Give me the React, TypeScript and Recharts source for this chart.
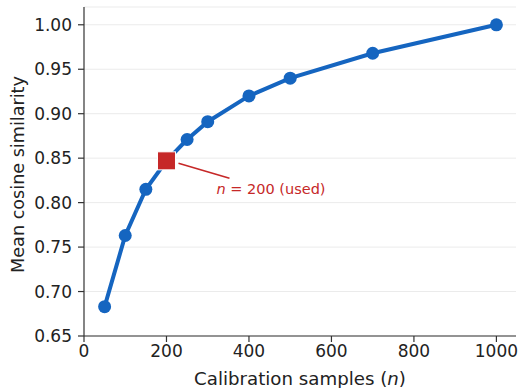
import React from 'react';
import { ComposedChart, Line, Scatter, XAxis, YAxis, CartesianGrid, Label } from 'recharts';

const samples = [50, 100, 150, 200, 250, 300, 400, 500, 700, 1000];
const similarity = [0.683, 0.763, 0.815, 0.847, 0.871, 0.891, 0.92, 0.94, 0.968, 1.0];
const usedSamples = [200];
const usedSimilarity = [0.847];
const xTicks = [0, 200, 400, 600, 800, 1000];
const yTicks = [0.65, 0.7, 0.75, 0.8, 0.85, 0.9, 0.95, 1.0];
const annotationValue = '200 (used)';

const lineData = samples.map((x, i) => ({ x, y: similarity[i] }));
const usedData = usedSamples.map((x, i) => ({ x, y: usedSimilarity[i] }));

const BLUE = '#1565C0';
const RED = '#C62828';
const FONT = 'DejaVu Sans, sans-serif';

const UsedShape = (props: any) => {
  const { cx, cy } = props;
  if (cx == null || cy == null) return null;
  const s = 18;
  return (
    <g>
      <line x1={cx + 12} y1={cy + 2.5} x2={cx + 63} y2={cy + 17.5} stroke={RED} strokeWidth={1.6} />
      <rect x={cx - s / 2} y={cy - s / 2} width={s} height={s} fill={RED} stroke="#ffffff" strokeWidth={1} />
      <text x={cx + 50} y={cy + 33} fill={RED} fontSize={14.5} fontFamily={FONT}>
        <tspan fontStyle="italic">n</tspan>
        <tspan>{' = ' + annotationValue}</tspan>
      </text>
    </g>
  );
};

const XLabel = (props: any) => {
  const vb = props.viewBox || {};
  const cx = vb.x + vb.width / 2;
  return (
    <text x={cx} y={vb.y + 49} textAnchor="middle" fontSize={18.2} fontFamily={FONT} fill="#222">
      <tspan>Calibration samples (</tspan>
      <tspan fontStyle="italic">n</tspan>
      <tspan>)</tspan>
    </text>
  );
};

const YLabel = (props: any) => {
  const vb = props.viewBox || {};
  const cy = vb.y + vb.height / 2 + 3;
  const x = 18;
  return (
    <text
      x={x}
      y={cy}
      textAnchor="middle"
      dominantBaseline="central"
      transform={`rotate(-90, ${x}, ${cy})`}
      fontSize={17.6}
      fontFamily={FONT}
      fill="#222"
    >
      Mean cosine similarity
    </text>
  );
};

export default function App() {
  return (
    <div style={{ position: 'absolute', left: 0, top: 0, width: 518, height: 388, background: '#fff' }}>
      <ComposedChart width={518} height={388} margin={{ top: 7, right: 2, bottom: 0, left: 0 }}>
        <CartesianGrid vertical={false} stroke="#ebebeb" strokeWidth={1} />
        <XAxis
          type="number"
          dataKey="x"
          domain={[0, 1047.5]}
          ticks={xTicks}
          height={52}
          tickSize={6}
          tickMargin={3}
          axisLine={{ stroke: '#333', strokeWidth: 1.2 }}
          tickLine={{ stroke: '#333', strokeWidth: 1.2 }}
          tick={{ fontSize: 17, fontFamily: FONT, fill: '#222' }}
          allowDataOverflow
        >
          <Label content={<XLabel />} />
        </XAxis>
        <YAxis
          type="number"
          dataKey="y"
          domain={[0.65, 1.02]}
          ticks={yTicks}
          width={84}
          tickSize={6}
          tickMargin={6}
          tickFormatter={(v: number) => v.toFixed(2)}
          axisLine={{ stroke: '#333', strokeWidth: 1.2 }}
          tickLine={{ stroke: '#333', strokeWidth: 1.2 }}
          tick={{ fontSize: 17, fontFamily: FONT, fill: '#222' }}
          allowDataOverflow
        >
          <Label content={<YLabel />} />
        </YAxis>
        <Line
          data={lineData}
          dataKey="y"
          type="linear"
          stroke={BLUE}
          strokeWidth={4}
          dot={{ r: 6.5, fill: BLUE, stroke: BLUE, strokeWidth: 0 }}
          activeDot={false}
          isAnimationActive={false}
        />
        <Scatter data={usedData} dataKey="y" shape={<UsedShape />} isAnimationActive={false} />
      </ComposedChart>
    </div>
  );
}
